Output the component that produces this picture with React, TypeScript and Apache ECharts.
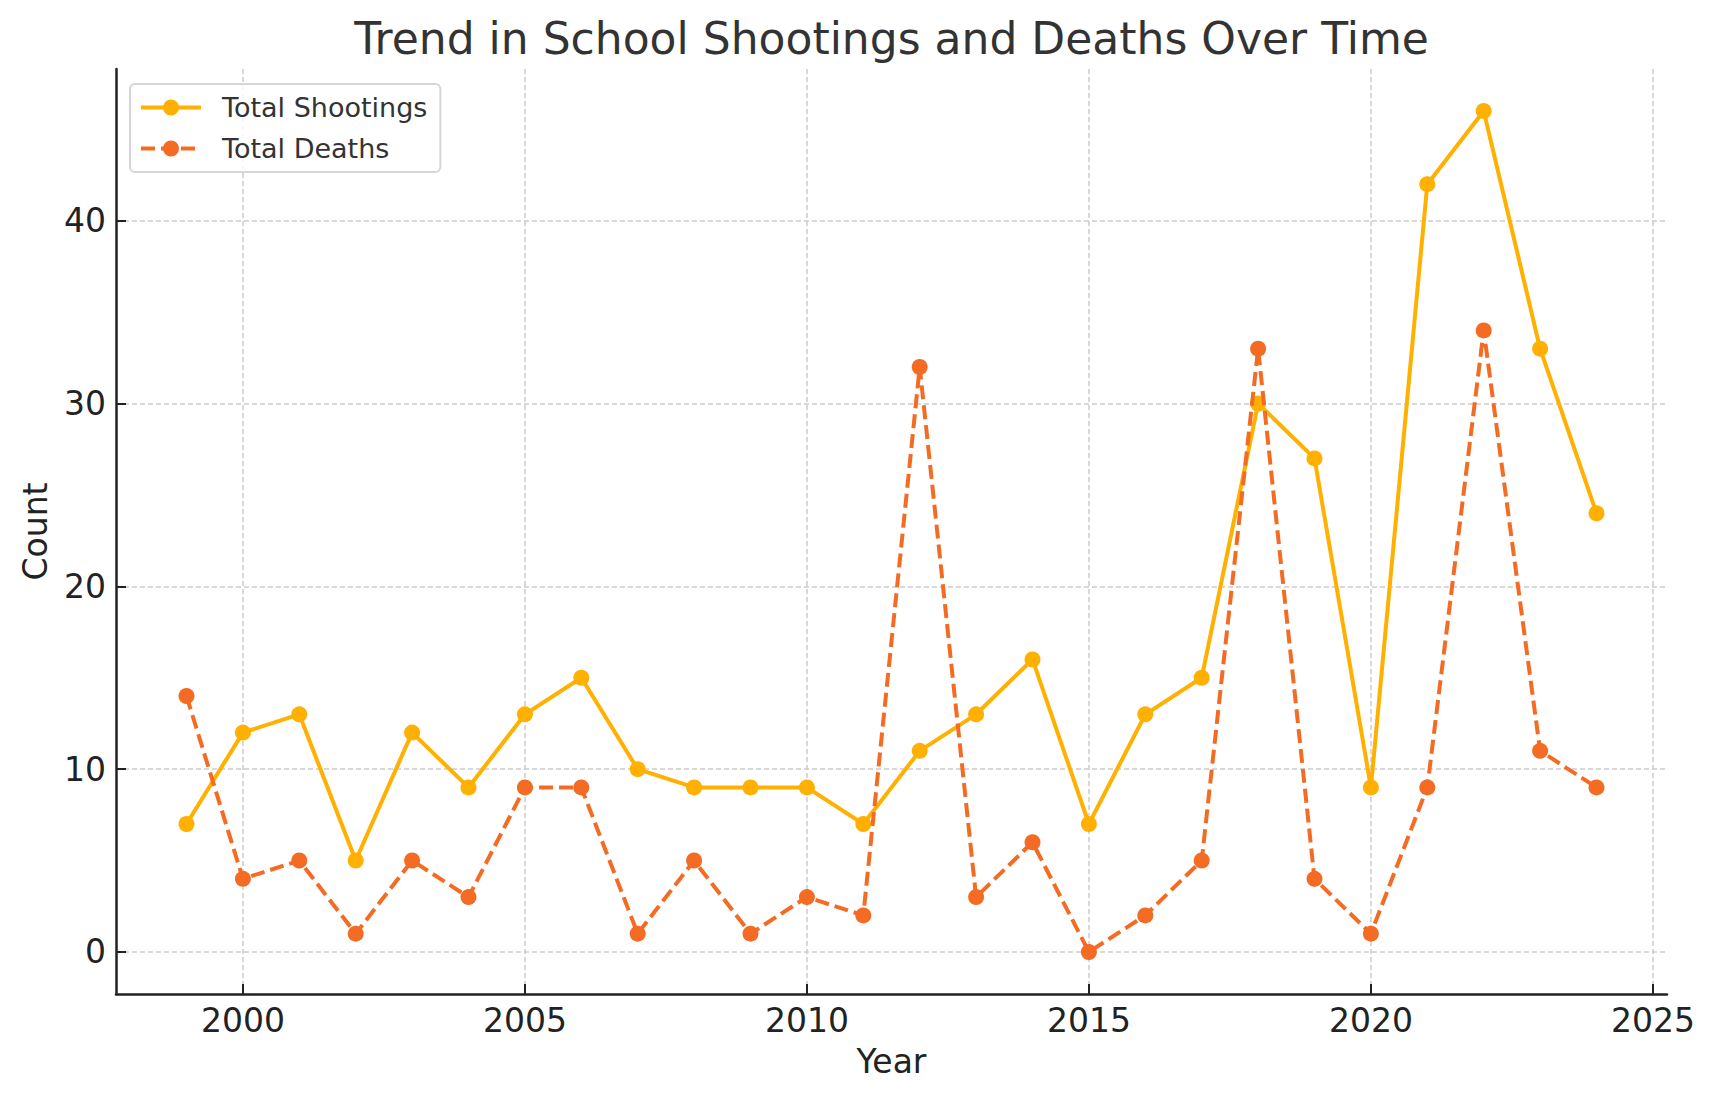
import React, { useEffect, useRef } from "react";
import * as echarts from "echarts";

const years = [1999, 2000, 2001, 2002, 2003, 2004, 2005, 2006, 2007, 2008, 2009, 2010, 2011, 2012, 2013, 2014, 2015, 2016, 2017, 2018, 2019, 2020, 2021, 2022, 2023, 2024];
const totalShootings = [7, 12, 13, 5, 12, 9, 13, 15, 10, 9, 9, 9, 7, 11, 13, 16, 7, 13, 15, 30, 27, 9, 42, 46, 33, 24];
const totalDeaths = [14, 4, 5, 1, 5, 3, 9, 9, 1, 5, 1, 3, 2, 32, 3, 6, 0, 2, 5, 33, 4, 1, 9, 34, 11, 9];
const xTicks = [2000, 2005, 2010, 2015, 2020, 2025];
const yTicks = [0, 10, 20, 30, 40];

const FONT = "DejaVu Sans";
const W = 1714;
const H = 1101;

export default function App() {
  const ref = useRef<HTMLDivElement>(null);
  useEffect(() => {
    if (!ref.current) return;
    const chart = echarts.init(ref.current, null, { renderer: "svg" });
    const gridLeft = 116;
    const gridRight = 1667;
    const gridTop = 69;
    const gridBottom = 994;
    const axisLine = { show: true, onZero: false, lineStyle: { color: "#222222", width: 2.5 } };
    const splitLine = { show: true, lineStyle: { color: "#cccccc", width: 1.5, type: [5, 3] } };
    chart.setOption({
      animation: false,
      backgroundColor: "#ffffff",
      textStyle: { fontFamily: FONT },
      grid: { left: gridLeft, right: W - gridRight, top: gridTop, bottom: H - gridBottom, containLabel: false },
      xAxis: {
        type: "value",
        min: 1997.75,
        max: 2025.25,
        axisLine,
        axisTick: { show: true, inside: true, length: 10, customValues: xTicks, lineStyle: { color: "#222222", width: 2 } },
        axisLabel: { customValues: xTicks, margin: 10, fontSize: 33, color: "#222222", fontFamily: FONT, formatter: (v: number) => String(v) },
        splitLine,
      },
      yAxis: {
        type: "value",
        min: -2.3,
        max: 48.3,
        axisLine,
        axisTick: { show: true, inside: true, length: 10, customValues: yTicks, lineStyle: { color: "#222222", width: 2 } },
        axisLabel: { customValues: yTicks, margin: 10, fontSize: 33, color: "#222222", fontFamily: FONT, formatter: (v: number) => String(v) },
        splitLine,
      },
      legend: {
        orient: "vertical",
        left: 130,
        top: 84,
        padding: [10, 13, 10, 9],
        itemWidth: 60,
        itemHeight: 20,
        itemGap: 14,
        backgroundColor: "rgba(255,255,255,0.8)",
        borderColor: "#d6d6d6",
        borderWidth: 2,
        borderRadius: 5,
        lineStyle: { width: 4 },
        textStyle: { fontSize: 27, color: "#333333", fontFamily: FONT, padding: [0, 0, 0, 16] },
        data: ["Total Shootings", "Total Deaths"],
      },
      graphic: [
        {
          type: "text",
          x: (gridLeft + gridRight) / 2,
          y: 38,
          style: { text: "Trend in School Shootings and Deaths Over Time", fontSize: 44, fontFamily: FONT, fill: "#333333", align: "center", verticalAlign: "middle" },
        },
        {
          type: "text",
          x: (gridLeft + gridRight) / 2,
          y: 1061,
          style: { text: "Year", fontSize: 33, fontFamily: FONT, fill: "#222222", align: "center", verticalAlign: "middle" },
        },
        {
          type: "text",
          x: 35,
          y: (gridTop + gridBottom) / 2,
          rotation: Math.PI / 2,
          style: { text: "Count", fontSize: 33, fontFamily: FONT, fill: "#222222", align: "center", verticalAlign: "middle" },
        },
      ],
      series: [
        {
          name: "Total Shootings",
          type: "line",
          data: years.map((y, i) => [y, totalShootings[i]]),
          symbol: "circle",
          symbolSize: 16,
          color: "#FFB000",
          lineStyle: { color: "#FFB000", width: 4 },
          itemStyle: { color: "#FFB000" },
          z: 3,
        },
        {
          name: "Total Deaths",
          type: "line",
          data: years.map((y, i) => [y, totalDeaths[i]]),
          symbol: "circle",
          symbolSize: 16,
          color: "#F46B24",
          lineStyle: { color: "#F46B24", width: 4, type: [14, 6] },
          itemStyle: { color: "#F46B24" },
          z: 4,
        },
      ],
    });
    return () => chart.dispose();
  }, []);
  return <div ref={ref} style={{ position: "absolute", left: 0, top: 0, width: W, height: H }} />;
}
